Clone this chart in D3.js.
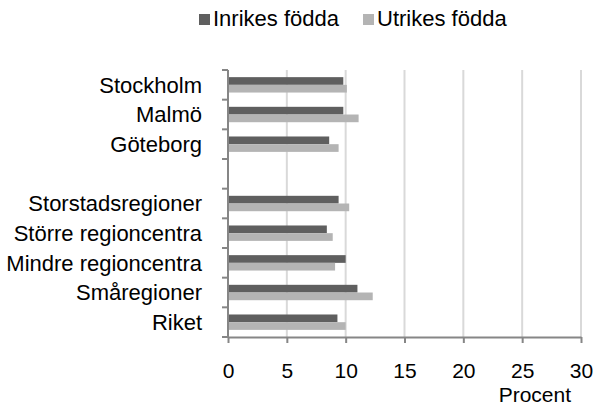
<!DOCTYPE html>
<html>
<head>
<meta charset="utf-8">
<script src="https://cdn.jsdelivr.net/npm/d3@7"></script>
<style>
  body { margin: 0; background: #fff; }
  text { font-family: "Liberation Sans", Arial, sans-serif; fill: #000; }
</style>
</head>
<body>
<script>
// categories (blank row between the cities and the region groups)
var categories = ["Stockholm", "Malmö", "Göteborg", " ", "Storstadsregioner",
  "Större regioncentra", "Mindre regioncentra", "Småregioner", "Riket"];
var series = ["Inrikes födda", "Utrikes födda"];
var inrikes = [9.8, 9.8, 8.6, null, 9.4, 8.4, 10.0, 11.0, 9.3];
var utrikes = [10.1, 11.1, 9.4, null, 10.3, 8.9, 9.1, 12.3, 10.0];
var xTicks = [0, 5, 10, 15, 20, 25, 30];
var colors = ["#5f5f5f", "#b4b4b4"];

var width = 593, height = 407;
var plot = {left: 228, right: 581, top: 70, bottom: 337};
var fontSize = "22px";

var svg = d3.select("body").append("svg")
    .attr("width", width)
    .attr("height", height);

// scales
var x = d3.scaleLinear().domain([0, 30]).range([plot.left, plot.right]);
var y0 = d3.scaleBand().domain(categories).range([plot.top, plot.bottom]);
var bw = y0.bandwidth();
var y1 = d3.scaleBand().domain(series).range([bw * 0.241, bw * 0.76]);

// gridlines
svg.append("g")
  .selectAll("line")
  .data(xTicks.slice(1))
  .enter().append("line")
    .attr("x1", function(d) { return x(d); })
    .attr("x2", function(d) { return x(d); })
    .attr("y1", plot.top)
    .attr("y2", plot.bottom)
    .attr("stroke", "#d9d9d9")
    .attr("stroke-width", 2);

// bars
var rows = categories.map(function(c, i) {
  return {cat: c, values: [inrikes[i], utrikes[i]]};
});

var groups = svg.selectAll(".grp")
    .data(rows)
  .enter().append("g")
    .attr("class", "grp")
    .attr("transform", function(d) { return "translate(0," + y0(d.cat) + ")"; });

groups.selectAll("rect")
    .data(function(d) {
      return d.values.map(function(v, j) { return {s: series[j], v: v, j: j}; })
        .filter(function(e) { return e.v != null; });
    })
  .enter().append("rect")
    .attr("x", x(0))
    .attr("y", function(d) { return y1(d.s); })
    .attr("height", y1.bandwidth())
    .attr("width", function(d) { return x(d.v) - x(0); })
    .attr("fill", function(d) { return colors[d.j]; });

// x axis
var xAxis = svg.append("g")
    .attr("transform", "translate(0," + plot.bottom + ")")
    .call(d3.axisBottom(x).tickValues(xTicks).tickSize(6).tickPadding(20).tickSizeOuter(0));
xAxis.select(".domain").attr("stroke", "#868686").attr("stroke-width", 2);
xAxis.selectAll(".tick line").attr("stroke", "#868686").attr("stroke-width", 2);
xAxis.selectAll(".tick text").style("font-size", "21px").attr("fill", "#000");

// y axis: ticks at band boundaries
var bounds = d3.range(categories.length + 1).map(function(i) { return plot.top + i * bw; });
svg.append("line")
    .attr("x1", plot.left).attr("x2", plot.left)
    .attr("y1", plot.top).attr("y2", plot.bottom)
    .attr("stroke", "#868686").attr("stroke-width", 2);
svg.append("g").selectAll("line")
    .data(bounds)
  .enter().append("line")
    .attr("x1", plot.left - 6).attr("x2", plot.left)
    .attr("y1", function(d) { return d; })
    .attr("y2", function(d) { return d; })
    .attr("stroke", "#868686").attr("stroke-width", 2);

svg.append("g").selectAll("text")
    .data(categories)
  .enter().append("text")
    .attr("x", 202)
    .attr("y", function(d) { return y0(d) + bw / 2; })
    .attr("dy", "0.35em")
    .attr("text-anchor", "end")
    .style("font-size", fontSize)
    .text(function(d) { return d; });

// axis title
svg.append("text")
    .attr("x", 571)
    .attr("y", 402)
    .attr("text-anchor", "end")
    .style("font-size", "21px")
    .text("Procent");

// legend
var legendX = [199, 363];
var legend = svg.selectAll(".legend")
    .data(series)
  .enter().append("g")
    .attr("class", "legend")
    .attr("transform", function(d, i) { return "translate(" + legendX[i] + ",14)"; });
legend.append("rect")
    .attr("width", 11).attr("height", 11)
    .attr("fill", function(d, i) { return colors[i]; });
legend.append("text")
    .attr("x", 14)
    .attr("y", 12)
    .style("font-size", fontSize)
    .text(function(d) { return d; });
</script>
</body>
</html>
